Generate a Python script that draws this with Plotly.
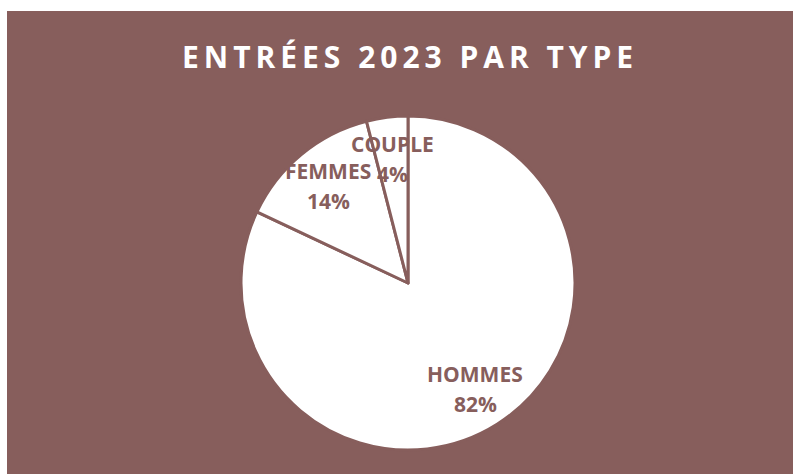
import math
import plotly.graph_objects as go

categories = ["HOMMES", "FEMMES", "COUPLE"]
values = [82, 14, 4]
title_text = "ENTRÉES 2023 PAR TYPE"

W, H = 793, 474
BROWN = "#875E5C"
cx, cy, R = 408, 283, 167  # pie centre / radius in pixels (layout)

fig = go.Figure()
fig.add_trace(go.Pie(
    labels=categories, values=values, sort=False, direction="clockwise", rotation=0,
    marker=dict(colors=["white"] * len(values), line=dict(color=BROWN, width=3)),
    textinfo="none", hoverinfo="label+percent", showlegend=False,
    domain=dict(x=[(cx - R) / W, (cx + R) / W], y=[(H - cy - R) / H, (H - cy + R) / H]),
))

total = sum(values)
cum = 0
annotations = []
for lab, v in zip(categories, values):
    mid = (cum + v / 2) / total * 2 * math.pi
    cum += v
    px = cx + 0.75 * R * math.sin(mid)
    py = cy - 0.75 * R * math.cos(mid)
    pct = f"{round(v / total * 100)}%"
    for txt, off in ((lab, -15), (pct, 15)):
        annotations.append(dict(
            x=px / W, y=(H - (py + off)) / H, xref="paper", yref="paper",
            text=txt, showarrow=False, xanchor="center", yanchor="middle",
            font=dict(family="Open Sans", size=21, color=BROWN, weight="bold"),
        ))

spaced = "\u2009".join(title_text)
annotations.append(dict(
    x=407 / W, y=(H - 57) / H, xref="paper", yref="paper", text=spaced,
    showarrow=False, xanchor="center", yanchor="middle",
    font=dict(family="Open Sans", size=30, color="white", weight="bold"),
))

fig.update_layout(
    width=W, height=H, margin=dict(l=0, r=0, t=0, b=0),
    paper_bgcolor=BROWN, plot_bgcolor=BROWN,
    annotations=annotations,
    shapes=[
        dict(type="rect", xref="paper", yref="paper", x0=0, x1=7 / W, y0=0, y1=1,
             fillcolor="white", line=dict(width=0), layer="above"),
        dict(type="rect", xref="paper", yref="paper", x0=0, x1=1, y0=(H - 11) / H, y1=1,
             fillcolor="white", line=dict(width=0), layer="above"),
    ],
)

fig.write_html("out.html", config={"displayModeBar": False},
               post_script="document.body.style.margin='0';document.body.style.overflow='hidden';")
